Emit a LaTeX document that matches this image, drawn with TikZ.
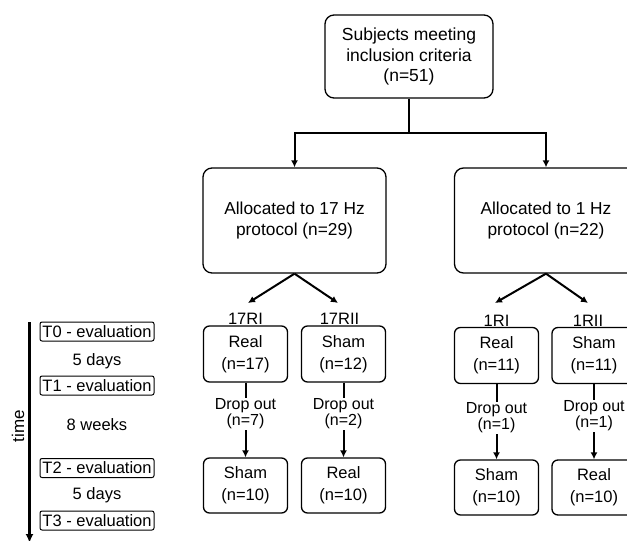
\documentclass[tikz,border=0pt]{standalone}
\usepackage{fontspec}
\setmainfont{Liberation Sans}
\usetikzlibrary{arrows.meta}
\begin{document}
\begin{tikzpicture}[x=1pt,y=-1pt,
  bigbox/.style={draw, rounded corners=9pt, line width=1.3pt, align=center, inner sep=0pt},
  smallbox/.style={draw, rounded corners=6pt, line width=1.3pt, align=center, inner sep=0pt,
    minimum width=84pt, minimum height=56pt, font=\fontsize{16.5}{22}\selectfont},
  tbox/.style={draw, rounded corners=2pt, line width=1pt, inner sep=0pt,
    minimum width=114pt, minimum height=19pt, font=\fontsize{16.5}{20}\selectfont},
  plain/.style={inner sep=0pt, font=\fontsize{16.5}{20}\selectfont},
  conn/.style={line width=2pt},
  arr/.style={line width=2pt, -{Latex[length=7pt,width=7pt]}},
  drop/.style={fill=white, inner sep=1pt, align=center, font=\fontsize{16}{12.5}\selectfont},
  grp/.style={inner sep=0.5pt, anchor=south, font=\fontsize{16.5}{20}\selectfont}]
\useasboundingbox (0,0) rectangle (627,541);

% top level
\node[bigbox, minimum width=168pt, minimum height=83pt, font=\fontsize{17.5}{20.5}\selectfont] (top) at (409,56.5)
  {Subjects meeting\\inclusion criteria\\(n=51)};
\node[bigbox, minimum width=183pt, minimum height=105pt, font=\fontsize{17.3}{21}\selectfont] (a17) at (294.5,220.5)
  {Allocated to 17 Hz\\protocol (n=29)};
\node[bigbox, minimum width=183pt, minimum height=105pt, font=\fontsize{17.3}{21}\selectfont] (a1) at (546,220.5)
  {Allocated to 1 Hz\\protocol (n=22)};

\draw[conn] (top.south) -- (409,133) coordinate (split);
\draw[arr] (split) -| (a17.north);
\draw[arr] (split) -| (a1.north);

% group boxes
\node[smallbox] (r17a) at (245.5,354) {Real\\(n=17)};
\node[smallbox] (r17b) at (343.5,354) {Sham\\(n=12)};
\node[smallbox] (r1a) at (496.5,355.5) {Real\\(n=11)};
\node[smallbox] (r1b) at (594,355.5) {Sham\\(n=11)};

\node[grp] (l17a) at (r17a.north) {17RI};
\node[grp] (l17b) at ([xshift=-4pt]r17b.north) {17RII};
\node[grp] (l1a) at (r1a.north) {1RI};
\node[grp] (l1b) at ([xshift=-6pt]r1b.north) {1RII};

\coordinate (t17a) at (248,303);
\coordinate (t17b) at (338,303);
\coordinate (t1a) at (495,303);
\coordinate (t1b) at (588,303);
\draw[arr] (a17.south) -- (t17a);
\draw[arr] (a17.south) -- (t17b);
\draw[arr] (a1.south) -- (t1a);
\draw[arr] (a1.south) -- (t1b);

\node[smallbox, minimum height=55pt] (s17a) at (245.5,485.5) {Sham\\(n=10)};
\node[smallbox, minimum height=55pt] (s17b) at (343.5,485.5) {Real\\(n=10)};
\node[smallbox, minimum height=55pt] (s1a) at (496.5,487.5) {Sham\\(n=10)};
\node[smallbox, minimum height=55pt] (s1b) at (594,487.5) {Real\\(n=10)};

\draw[arr] (r17a.south) -- node[drop, pos=0.42] (d17a) {Drop out\\(n=7)} (s17a.north);
\draw[arr] (r17b.south) -- node[drop, pos=0.42] (d17b) {Drop out\\(n=2)} (s17b.north);
\draw[arr] (r1a.south) -- node[drop, pos=0.45] (d1a) {Drop out\\(n=1)} (s1a.north);
\draw[arr] (r1b.south) -- node[drop, pos=0.42] (d1b) {Drop out\\(n=1)} (s1b.north);

% time line
\coordinate (tstart) at (29.5,322);
\coordinate (tend) at (29.5,543);
\draw[line width=3pt, -{Latex[length=9pt,width=8pt]}] (tstart) -- (tend);
\node[plain, rotate=90, font=\fontsize{17}{20}\selectfont] (time) at (18,426) {time};

\node[tbox] (T0) at (97,331.5) {T0 - evaluation};
\node[plain] (g1) at (97,361) {5 days};
\node[tbox] (T1) at (97,385.5) {T1 - evaluation};
\node[plain] (g2) at (97,425) {8 weeks};
\node[tbox] (T2) at (97,468) {T2 - evaluation};
\node[plain] (g3) at (97,495) {5 days};
\node[tbox] (T3) at (97,520.5) {T3 - evaluation};
\end{tikzpicture}
\end{document}
